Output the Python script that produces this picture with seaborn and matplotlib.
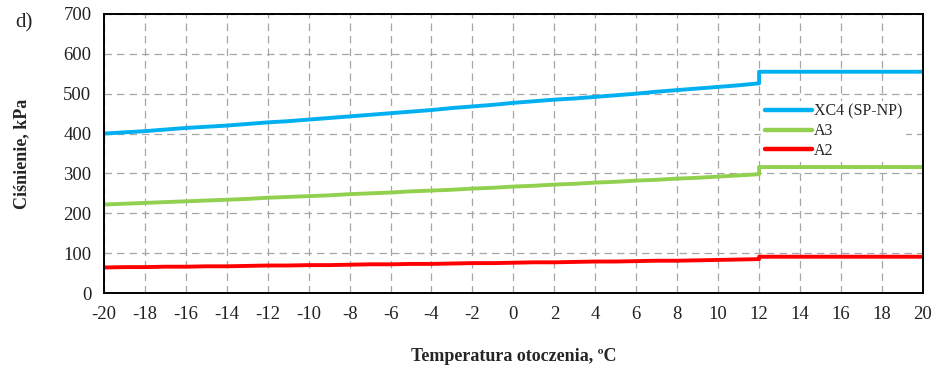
import numpy as np
import pandas as pd
import matplotlib
matplotlib.use("Agg")
import matplotlib.pyplot as plt
import seaborn as sns

# Ambient temperature, degC (the step at 12 degC appears as a repeated x value)
temperature = [-20, -19, -18, -17, -16, -15, -14, -13, -12, -11, -10,
               -9, -8, -7, -6, -5, -4, -3, -2, -1, 0,
               1, 2, 3, 4, 5, 6, 7, 8, 9, 10, 11, 12,
               12, 14, 16, 18, 20]

# Pressure, kPa
xc4 = [400, 403, 406, 410, 414, 417, 420, 424, 428, 431, 435,
       439, 443, 447, 451, 455, 459, 464, 468, 472, 477,
       481, 485, 488, 492, 496, 500, 505, 509, 513, 517, 521, 526,
       555, 555, 555, 555, 555]
a3 = [222, 224, 226, 228, 230, 232, 234, 236, 239, 241, 243,
      245, 248, 250, 252, 255, 257, 259, 262, 264, 267,
      269, 272, 274, 277, 279, 282, 284, 287, 289, 292, 295, 298,
      316, 316, 316, 316, 316]
a2 = [64, 65, 65, 66, 66, 67, 67, 68, 69, 69, 70,
      70, 71, 72, 72, 73, 73, 74, 75, 75, 76,
      77, 77, 78, 79, 79, 80, 81, 81, 82, 83, 84, 85,
      91, 91, 91, 91, 91]

series_names = ["XC4 (SP-NP)", "A3", "A2"]
series_colors = ["#00B0F0", "#92D050", "#FF0000"]

frames = []
for name, vals in zip(series_names, [xc4, a3, a2]):
    frames.append(pd.DataFrame({"T": temperature, "p": vals, "seria": name}))
df = pd.concat(frames, ignore_index=True)

sns.set_style("white")
plt.rcParams["font.family"] = ["Liberation Serif", "DejaVu Serif"]
plt.rcParams["axes.unicode_minus"] = False

fig = plt.figure(figsize=(9.36, 3.67), dpi=100)
ax = fig.add_axes([0.111, 0.2016, 0.875, 0.7604])

sns.lineplot(data=df, x="T", y="p", hue="seria", hue_order=series_names,
             palette=series_colors, estimator=None, sort=False, units="seria",
             linewidth=2.8, ax=ax, legend=True)

ax.set_xlim(-20, 20)
ax.set_ylim(0, 700)
ax.set_xticks(np.arange(-20, 21, 2))
ax.set_yticks(np.arange(0, 701, 100))
ax.grid(True, color="#a6a6a6", linestyle=(0, (6, 4)), linewidth=0.9)
ax.set_axisbelow(True)
for s in ax.spines.values():
    s.set_color("black")
    s.set_linewidth(1.4)
ax.tick_params(axis="both", length=0, labelsize=13.5, colors="#222222", pad=9)

ax.set_xlabel("Temperatura otoczenia, ºC", fontsize=13, fontweight="bold",
              labelpad=18)
ax.set_ylabel("Ciśnienie, kPa", fontsize=13, fontweight="bold", labelpad=24)

handles, labels = ax.get_legend_handles_labels()
leg = ax.legend(handles, labels, loc="upper left", bbox_to_anchor=(0.793, 0.718),
                frameon=True, facecolor="white", edgecolor="none", framealpha=1,
                fontsize=11.5, handlelength=3.0, handletextpad=0.1,
                labelspacing=0.22, borderpad=0.2, fancybox=False)
for line in leg.get_lines():
    line.set_linewidth(3.2)

fig.text(0.016, 0.925, "d)", fontsize=15)

fig.savefig("out.png", dpi=100)
